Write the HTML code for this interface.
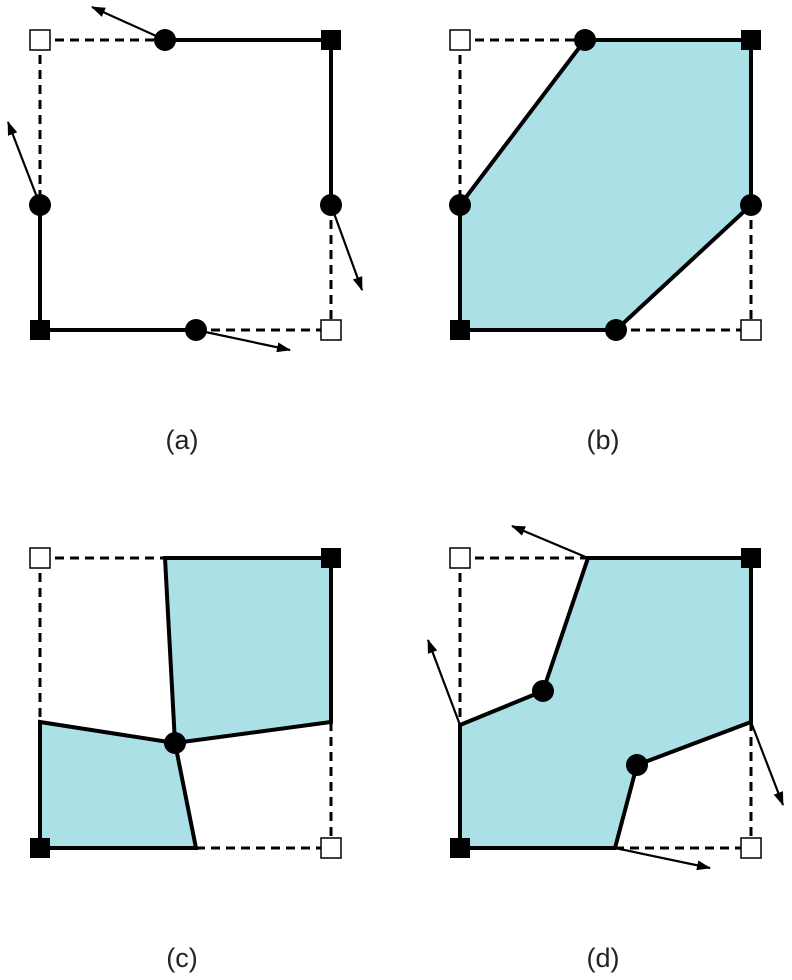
<!DOCTYPE html>
<html><head><meta charset="utf-8"><style>body{margin:0;background:#fff}svg{display:block}</style></head>
<body>
<svg width="792" height="980" viewBox="0 0 792 980" xmlns="http://www.w3.org/2000/svg">
<defs><marker id="ah" markerWidth="14" markerHeight="10" refX="13" refY="5" orient="auto" markerUnits="userSpaceOnUse"><path d="M0,0 L14,5 L0,10 z" fill="#000"/></marker></defs>
<g stroke="#000" fill="none">
<!-- panel a -->
<g>
<path d="M40,40H165 M40,40V205 M196,330H331 M331,205V330" stroke-width="3" stroke-dasharray="9,6"/>
<path d="M165,40H331V205 M40,205V330H196" stroke-width="4"/>
<g stroke-width="2.2" marker-end="url(#ah)">
<path d="M165,40L92,7"/><path d="M40,205L8,122"/><path d="M331,205L362,290"/><path d="M196,330L290,350"/>
</g>
<g fill="#000" stroke="none"><circle cx="165" cy="40" r="11"/><circle cx="40" cy="205" r="11"/><circle cx="331" cy="205" r="11"/><circle cx="196" cy="330" r="11"/>
<rect x="321" y="30" width="20" height="20"/><rect x="30" y="320" width="20" height="20"/></g>
<rect x="30" y="30" width="20" height="20" fill="#fff" stroke-width="1.5"/><rect x="321" y="320" width="20" height="20" fill="#fff" stroke-width="1.5"/>
</g>
<!-- panel b -->
<g>
<path d="M460,40H585 M460,40V205 M616,330H751 M751,205V330" stroke-width="3" stroke-dasharray="9,6"/>
<path d="M585,40L751,40L751,205L616,330L460,330L460,205Z" fill="#aae0e6" stroke-width="4"/>
<g fill="#000" stroke="none"><circle cx="585" cy="40" r="11"/><circle cx="460" cy="205" r="11"/><circle cx="751" cy="205" r="11"/><circle cx="616" cy="330" r="11"/>
<rect x="741" y="30" width="20" height="20"/><rect x="450" y="320" width="20" height="20"/></g>
<rect x="450" y="30" width="20" height="20" fill="#fff" stroke-width="1.5"/><rect x="741" y="320" width="20" height="20" fill="#fff" stroke-width="1.5"/>
</g>
<!-- panel c -->
<g>
<path d="M40,558H165 M40,558V722 M196,848H331 M331,722V848" stroke-width="3" stroke-dasharray="9,6"/>
<path d="M165,558L331,558L331,722L175,743Z" fill="#aae0e6" stroke-width="4"/>
<path d="M40,722L175,743L196,848L40,848Z" fill="#aae0e6" stroke-width="4"/>
<g fill="#000" stroke="none"><circle cx="175" cy="743" r="11"/>
<rect x="321" y="548" width="20" height="20"/><rect x="30" y="838" width="20" height="20"/></g>
<rect x="30" y="548" width="20" height="20" fill="#fff" stroke-width="1.5"/><rect x="321" y="838" width="20" height="20" fill="#fff" stroke-width="1.5"/>
</g>
<!-- panel d -->
<g>
<path d="M460,558H588 M460,558V725 M615,848H751 M751,722V848" stroke-width="3" stroke-dasharray="9,6"/>
<path d="M588,558L751,558L751,722L637,765L615,848L460,848L460,725L543,691Z" fill="#aae0e6" stroke-width="4"/>
<g stroke-width="2.2" marker-end="url(#ah)">
<path d="M588,558L512,526"/><path d="M460,725L428,640"/><path d="M751,722L783,805"/><path d="M615,848L710,868"/>
</g>
<g fill="#000" stroke="none"><circle cx="543" cy="691" r="11"/><circle cx="637" cy="765" r="11"/>
<rect x="741" y="548" width="20" height="20"/><rect x="450" y="838" width="20" height="20"/></g>
<rect x="450" y="548" width="20" height="20" fill="#fff" stroke-width="1.5"/><rect x="741" y="838" width="20" height="20" fill="#fff" stroke-width="1.5"/>
</g>
</g>
<g font-family="Liberation Sans, sans-serif" font-size="27" text-anchor="middle" fill="#222">
<text x="182" y="449">(a)</text>
<text x="603" y="449">(b)</text>
<text x="182" y="967">(c)</text>
<text x="603" y="967">(d)</text>
</g>
</svg>
</body></html>
